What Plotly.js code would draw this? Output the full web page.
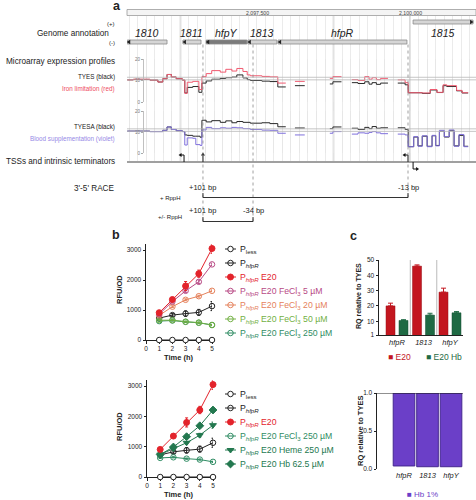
<!DOCTYPE html>
<html><head><meta charset="utf-8">
<script src="https://cdn.plot.ly/plotly-3.0.1.min.js"></script>
<style>html,body{margin:0;padding:0;background:#fff}#chart{width:476px;height:500px}</style>
</head><body><div id="chart"></div>
<script>
// ================= DATA =================
// Panel a : genome browser
const genomeTicks = [2097500, 2100000];
const genomeTickText = ['2,097,500', '2,100,000'];
const majorLines = [2096250, 2098750, 2100000];
const geneNames  = ['1810', '1811', 'hfpY', '1813', 'hfpR', '1815'];
const geneStart  = [2095380, 2096290, 2096670, 2097350, 2097845, 2100050];
const geneEnd    = [2096030, 2096585, 2097335, 2097825, 2099950, 2101030];
const geneStrand = ['-', '-', '-', '-', '-', '+'];

const expX1 = [2095380, 2095480, 2095750, 2095880, 2095960, 2096030, 2096100, 2096180, 2096280, 2096320,
  2096360, 2096450, 2096550, 2096600, 2096670, 2096760, 2096900, 2096990, 2097090, 2097170,
  2097270, 2097340, 2097390, 2097580, 2097710, 2097840, 2097970, 2097980, 2098120, 2098280,
  2098290, 2098690, 2098740, 2098880, 2098890, 2099050, 2099150, 2099260, 2099330, 2099380,
  2099450, 2099520, 2099640, 2099650, 2099800, 2099920, 2099970, 2100200, 2100330, 2100440,
  2100540, 2100600, 2100760, 2100850, 2100950];
const tyes = [10.3, 10.5, 10.2, 9.3, 10.8, 12.8, 11.6, 10.8, 10.2, 4.2,
  6.8, 7.2, 4.5, 8.8, 9.8, 10.6, 11.0, 11.3, 11.6, 12.6,
  11.2, 10.4, 10.0, 9.7, 9.5, 7.0, 7.0, null, 7.6, 7.6,
  null, 8.4, 9.4, 9.4, null, 9.0, 8.6, 9.4, 8.3, 9.0,
  8.2, 8.8, 8.8, null, 8.8, 8.0, 4.3, 4.0, 5.6, 4.4,
  7.6, 7.2, 5.2, 4.2, 4.2];
const ironLimitation = [10.3, 10.6, 10.2, 9.3, 10.8, 12.8, 11.6, 10.8, 10.2, 4.0,
  9.2, 9.6, 5.8, 11.8, 13.2, 14.6, 13.9, 15.2, 14.4, 15.6,
  14.2, 12.6, 12.2, 11.9, 11.7, 8.8, 8.8, null, 9.6, 9.6,
  null, 11.0, 11.8, 11.8, null, 10.4, 10.0, 11.8, 10.6, 11.3,
  10.4, 11.0, 11.0, null, 10.3, 9.0, 4.3, 4.2, 5.8, 4.5,
  8.0, 7.6, 5.4, 4.3, 4.3];

const expX2 = [2095380, 2095750, 2095960, 2096030, 2096100, 2096180, 2096280, 2096320, 2096360, 2096450,
  2096500, 2096570, 2096600, 2096670, 2096760, 2096900, 2096990, 2097090, 2097170, 2097270,
  2097390, 2097580, 2097710, 2097840, 2097970, 2097980, 2098120, 2098280, 2098290, 2098690,
  2098740, 2098880, 2098890, 2099050, 2099150, 2099260, 2099330, 2099380, 2099450, 2099520,
  2099640, 2099650, 2099800, 2099920, 2099970, 2100060, 2100130, 2100200, 2100280, 2100360,
  2100420, 2100480, 2100560, 2100640, 2100720, 2100800, 2100880, 2100950];
const tyesa = [10.4, 10.2, 10.8, 12.4, 11.2, 10.6, 10.2, 8.6, 8.4, 8.0,
  8.0, 7.5, 15.6, 14.8, 15.4, 14.6, 15.3, 14.4, 15.0, 14.6,
  14.2, 14.4, 14.0, 12.5, 12.5, null, 11.9, 11.9, null, 11.6,
  12.4, 12.4, null, 11.8, 11.2, 12.2, 11.6, 12.6, 11.8, 12.0,
  12.0, null, 12.0, 11.2, 3.0, 7.6, 3.4, 8.0, 3.2, 8.2,
  3.6, 10.4, 7.6, 10.6, 3.4, 8.4, 3.2, 3.2];
const bloodSupp = [10.4, 10.2, 10.8, 12.4, 11.2, 10.6, 10.2, 3.8, 7.2, 7.0,
  4.0, 3.6, 11.0, 12.2, 11.6, 12.0, 11.8, 12.2, 12.0, 11.6,
  11.2, 10.9, 10.8, 9.4, 9.4, null, 8.6, 8.6, null, 9.4,
  10.2, 10.2, null, 9.0, 9.6, 9.4, 9.8, 10.2, 9.6, 9.2,
  9.2, null, 9.0, 8.6, 3.0, 7.8, 3.2, 8.2, 3.0, 8.4,
  3.4, 10.8, 7.8, 11.0, 3.2, 8.8, 3.0, 3.0];

const tssMinus = [2096308, 2099967];
const terminators = [2096617];
const tssPlus = [2100050];
const racePos = [2096617, 2099967, 2097435];
const raceLabels = ['+101 bp', '-13 bp', '-34 bp'];

// Panel b : fluorescence time course
const timeH = [1, 2, 3, 4, 5];
const pless = [0, 0, 0, 0, 0];
const phfpR = [730, 830, 880, 920, 1130];      const phfpRErr = [40, 50, 90, 100, 150];
const e20 = [910, 1350, 1800, 2210, 3050];       const e20Err = [60, 60, 150, 120, 160];
const fe5 = [860, 1280, 1640, 1940, 2520];       const fe5Err = [30, 40, 50, 60, 40];
const fe20 = [820, 1110, 1340, 1460, 1640];      const fe20Err = [30, 30, 30, 30, 30];
const fe50 = [660, 660, 610, 580, 500];          const fe50Err = [20, 20, 20, 20, 20];
const fe250 = [630, 650, 605, 575, 500];         const fe250Err = [20, 20, 20, 20, 20];
const heme250 = [740, 930, 1130, 1380, 1710];    const heme250Err = [30, 40, 40, 60, 100];
const hb625 = [740, 990, 1330, 1690, 2210];      const hb625Err = [30, 30, 30, 40, 40];

// Panel c : RQ bars
const genesRQ = ['hfpR', '1813', 'hfpY'];
const rqE20 = [20, 46, 29];       const rqE20Err = [1.8, 0.8, 2.6];
const rqE20Hb = [10.5, 14, 15.5]; const rqE20HbErr = [0.5, 1.2, 0.8];
const rqHb1 = [0.04, 0.03, 0.03];

// ================= LAYOUT HELPERS =================
const W = 476, H = 500;
const px = v => v / W;
const py = v => 1 - v / H;
const FONT = 'Liberation Sans, Arial, sans-serif';
const gRange = [2095376, 2101078];
const bpPx = (gRange[1] - gRange[0]) / (W - 127);
const geneIdx = genesRQ.map((g, i) => i);

const ST = {
  pless: {color: '#222', symbol: 'circle', fill: '#ffffff', size: 5.5, text: '#222'},
  phfpR: {color: '#222', symbol: 'circle-open', fill: '#222', size: 5.5, text: '#222'},
  e20:   {color: '#e3232b', symbol: 'circle', fill: '#e3232b', size: 6, text: '#e3232b'},
  fe5:   {color: '#b84a85', symbol: 'circle-open', fill: '#b84a85', size: 5.5, text: '#b84a85'},
  fe20:  {color: '#e5825c', symbol: 'circle-open', fill: '#e5825c', size: 5.5, text: '#e5825c'},
  fe50:  {color: '#72b043', symbol: 'circle-open', fill: '#72b043', size: 5.5, text: '#72b043'},
  fe250: {color: '#2f8c63', symbol: 'circle-open', fill: '#2f8c63', size: 5.5, text: '#2f8c63'},
  heme:  {color: '#23784f', symbol: 'triangle-down', fill: '#23784f', size: 6, text: '#23784f'},
  hb:    {color: '#23784f', symbol: 'diamond', fill: '#23784f', size: 6, text: '#23784f'}
};
const P = 'P<sub><i>hfpR</i></sub>';

const traces = [];
traces.push({x: [gRange[0]], y: [0], xaxis: 'x', yaxis: 'y', mode: 'markers', marker: {opacity: 0}, hoverinfo: 'skip'});
traces.push({x: expX1, y: tyes, xaxis: 'x', yaxis: 'y2', mode: 'lines', connectgaps: false, line: {shape: 'hv', color: '#2a2a2a', width: 1}, hoverinfo: 'skip'});
traces.push({x: expX1, y: ironLimitation, xaxis: 'x', yaxis: 'y2', mode: 'lines', connectgaps: false, line: {shape: 'hv', color: '#f05a70', width: 1}, hoverinfo: 'skip'});
traces.push({x: expX2, y: tyesa, xaxis: 'x', yaxis: 'y3', mode: 'lines', connectgaps: false, line: {shape: 'hv', color: '#2a2a2a', width: 1}, hoverinfo: 'skip'});
traces.push({x: expX2, y: bloodSupp, xaxis: 'x', yaxis: 'y3', mode: 'lines', connectgaps: false, line: {shape: 'hv', color: '#7f70dc', width: 1}, hoverinfo: 'skip'});

function series(xa, ya, y, err, st) {
  const t = {x: timeH, y: y, xaxis: xa, yaxis: ya, mode: 'lines+markers', cliponaxis: false, hoverinfo: 'skip',
    line: {color: st.color, width: 1},
    marker: {symbol: st.symbol, size: st.size, color: st.fill, line: {color: st.color, width: 1}}};
  if (err) t.error_y = {type: 'data', array: err, visible: true, color: st.color, thickness: 1, width: 1.5};
  return t;
}
traces.push(series('x2', 'y4', pless, null, ST.pless));
traces.push(series('x2', 'y4', phfpR, phfpRErr, ST.phfpR));
traces.push(series('x2', 'y4', fe250, fe250Err, ST.fe250));
traces.push(series('x2', 'y4', fe50, fe50Err, ST.fe50));
traces.push(series('x2', 'y4', fe20, fe20Err, ST.fe20));
traces.push(series('x2', 'y4', fe5, fe5Err, ST.fe5));
traces.push(series('x2', 'y4', e20, e20Err, ST.e20));
traces.push(series('x3', 'y5', pless, null, ST.pless));
traces.push(series('x3', 'y5', phfpR, phfpRErr, ST.phfpR));
traces.push(series('x3', 'y5', fe250, fe250Err, ST.fe250));
traces.push(series('x3', 'y5', heme250, heme250Err, ST.heme));
traces.push(series('x3', 'y5', hb625, hb625Err, ST.hb));
traces.push(series('x3', 'y5', e20, e20Err, ST.e20));

const legUpper = [['pless', 'P<sub>less</sub>'], ['phfpR', P], ['e20', P + ' E20'],
  ['fe5', P + ' E20 FeCl<sub>3</sub> 5 µM'], ['fe20', P + ' E20 FeCl<sub>3</sub> 20 µM'],
  ['fe50', P + ' E20 FeCl<sub>3</sub> 50 µM'], ['fe250', P + ' E20 FeCl<sub>3</sub> 250 µM']];
const legLower = [['pless', 'P<sub>less</sub>'], ['phfpR', P], ['e20', P + ' E20'],
  ['fe250', P + ' E20 FeCl<sub>3</sub> 250 µM'], ['heme', P + ' E20 Heme 250 µM'], ['hb', P + ' E20 Hb 62.5 µM']];
const annotations = [];
function legend(list, xa, ya) {
  list.forEach((it, i) => {
    const st = ST[it[0]];
    traces.push({x: [0, 1], y: [i, i], xaxis: xa, yaxis: ya, mode: 'lines', line: {color: st.color, width: 1}, hoverinfo: 'skip', cliponaxis: false});
    traces.push({x: [0.5], y: [i], xaxis: xa, yaxis: ya, mode: 'markers', cliponaxis: false, hoverinfo: 'skip',
      marker: {symbol: st.symbol, size: st.size, color: st.fill, line: {color: st.color, width: 1}}});
    annotations.push({text: it[1], xref: 'paper', yref: ya, x: px(238), y: i, xanchor: 'left', yanchor: 'middle',
      showarrow: false, font: {family: FONT, size: 8.7, color: st.text}});
  });
}
legend(legUpper, 'x6', 'y8');
legend(legLower, 'x7', 'y9');

// panel c bars
traces.push({type: 'bar', x: geneIdx, y: rqE20, xaxis: 'x4', yaxis: 'y6', width: 0.34, offset: -0.415,
  marker: {color: '#c3161f', line: {color: '#9b1018', width: 0.5}}, hoverinfo: 'skip',
  error_y: {type: 'data', symmetric: false, array: rqE20Err, arrayminus: [0, 0, 0], color: '#c3161f', thickness: 1, width: 2.5}});
traces.push({type: 'bar', x: geneIdx, y: rqE20Hb, xaxis: 'x4', yaxis: 'y6', width: 0.34, offset: 0.075,
  marker: {color: '#1f6a44', line: {color: '#164f33', width: 0.5}}, hoverinfo: 'skip',
  error_y: {type: 'data', symmetric: false, array: rqE20HbErr, arrayminus: [0, 0, 0], color: '#1f6a44', thickness: 1, width: 2.5}});
traces.push({type: 'bar', x: geneIdx, y: rqHb1.map(v => v - 1), base: 1, xaxis: 'x5', yaxis: 'y7', width: 0.92,
  marker: {color: '#6b3fc8', line: {color: '#45288f', width: 1}}, hoverinfo: 'skip'});

// ================= SHAPES =================
const shapes = [];
shapes.push({type: 'rect', xref: 'paper', yref: 'paper', x0: px(127), x1: 1, y0: py(15.5), y1: py(9.5), fillcolor: '#f4f4f4', line: {color: '#9a9a9a', width: 0.8}});
majorLines.forEach(x => shapes.push({type: 'line', xref: 'x', yref: 'paper', x0: x, x1: x, y0: py(162), y1: py(16), line: {color: '#cfcfcf', width: 1.6}, layer: 'below'}));
geneNames.forEach((g, i) => {
  const yTop = geneStrand[i] === '+' ? 20 : 40, yBot = yTop + 4;
  shapes.push({type: 'rect', xref: 'x', yref: 'paper', x0: geneStart[i], x1: geneEnd[i], y0: py(yBot), y1: py(yTop),
    fillcolor: g === 'hfpY' ? '#7b7b7b' : '#d6d6d6', line: {color: '#8a8a8a', width: 0.8}});
  const s = 3 * bpPx, yM = yTop + 2;
  const path = geneStrand[i] === '-'
    ? `M ${geneStart[i] - 0.5 * bpPx},${py(yM)} L ${geneStart[i] + s},${py(yTop - 0.3)} L ${geneStart[i] + s},${py(yBot + 0.3)} Z`
    : `M ${geneEnd[i] + 0.5 * bpPx},${py(yM)} L ${geneEnd[i] - s},${py(yTop - 0.3)} L ${geneEnd[i] - s},${py(yBot + 0.3)} Z`;
  shapes.push({type: 'path', xref: 'x', yref: 'paper', path: path, fillcolor: '#222', line: {width: 0}});
  annotations.push({text: '<i>' + g + '</i>', xref: 'x', yref: 'paper', x: (geneStart[i] + geneEnd[i]) / 2, y: py(33),
    showarrow: false, font: {family: FONT, size: 10.5, color: '#222'}, xanchor: 'center', yanchor: 'middle'});
});
['y2', 'y3'].forEach(ya => [10.3, 11.5].forEach(v => shapes.push({type: 'line', xref: 'paper', yref: ya, x0: px(127), x1: 1, y0: v, y1: v, line: {color: '#b8b8b8', width: 0.8}})));
shapes.push({type: 'line', xref: 'paper', yref: 'paper', x0: px(127), x1: 1, y0: py(162), y1: py(162), line: {color: '#a0a0a0', width: 2}});
function tri(xb, y, dir) {
  const s = 3;
  if (dir === 'left') return `M ${xb},${py(y)} L ${xb + s * bpPx},${py(y - 2)} L ${xb + s * bpPx},${py(y + 2)} Z`;
  if (dir === 'right') return `M ${xb},${py(y)} L ${xb - s * bpPx},${py(y - 2)} L ${xb - s * bpPx},${py(y + 2)} Z`;
  return `M ${xb},${py(y)} L ${xb - 2 * bpPx},${py(y + s)} L ${xb + 2 * bpPx},${py(y + s)} Z`;
}
tssMinus.forEach(x => {
  shapes.push({type: 'path', xref: 'x', yref: 'paper', path: `M ${x},${py(162)} L ${x},${py(155)} L ${x - 3 * bpPx},${py(155)}`, line: {color: '#111', width: 1}});
  shapes.push({type: 'path', xref: 'x', yref: 'paper', path: tri(x - 5.5 * bpPx, 155, 'left'), fillcolor: '#111', line: {width: 0}});
});
terminators.forEach(x => {
  shapes.push({type: 'line', xref: 'x', yref: 'paper', x0: x, x1: x, y0: py(162), y1: py(155.5), line: {color: '#111', width: 1}});
  shapes.push({type: 'path', xref: 'x', yref: 'paper', path: tri(x, 152.5, 'up'), fillcolor: '#111', line: {width: 0}});
});
tssPlus.forEach(x => {
  shapes.push({type: 'path', xref: 'x', yref: 'paper', path: `M ${x},${py(162)} L ${x},${py(169)} L ${x + 3 * bpPx},${py(169)}`, line: {color: '#111', width: 1}});
  shapes.push({type: 'path', xref: 'x', yref: 'paper', path: tri(x + 6 * bpPx, 169, 'right'), fillcolor: '#111', line: {width: 0}});
});
[[racePos[0], 221.5], [racePos[2], 221.5], [racePos[1], 197.5]].forEach(d => shapes.push({type: 'line', xref: 'x', yref: 'paper', x0: d[0], x1: d[0], y0: py(44.5), y1: py(d[1]), line: {color: '#888', width: 0.8, dash: 'dot'}}));
shapes.push({type: 'path', xref: 'x', yref: 'paper', path: `M ${racePos[0]},${py(193)} L ${racePos[0]},${py(197.5)} L ${racePos[1]},${py(197.5)} L ${racePos[1]},${py(193)}`, line: {color: '#333', width: 1}});
shapes.push({type: 'path', xref: 'x', yref: 'paper', path: `M ${racePos[0]},${py(217)} L ${racePos[0]},${py(221.5)} L ${racePos[2]},${py(221.5)} L ${racePos[2]},${py(217)}`, line: {color: '#333', width: 1}});
[0.5, 1.5].forEach(x => shapes.push({type: 'line', xref: 'x4', yref: 'y6', x0: x, x1: x, y0: 1, y1: 50, line: {color: '#a8a8a8', width: 0.8}, layer: 'below'}));
shapes.push({type: 'line', xref: 'x5 domain', yref: 'y7', x0: 0, x1: 1, y0: 1, y1: 1, line: {color: '#222', width: 1.2}});

// ================= TEXT =================
function T(text, x, y, size, o) {
  o = o || {};
  return {text: text, xref: o.xref || 'paper', yref: 'paper', x: o.xref ? x : px(x), y: py(y), showarrow: false,
    xanchor: o.xa || 'center', yanchor: 'middle', textangle: o.rot || 0,
    font: {family: FONT, size: size, color: o.color || '#222'}};
}
annotations.push(T('<b>a</b>', 117, 6, 12.5));
annotations.push(T('<b>b</b>', 116, 235, 12.5));
annotations.push(T('<b>c</b>', 353, 236, 12.5));
genomeTicks.forEach((g, i) => annotations.push(T(genomeTickText[i], g, 12.5, 5.2, {xref: 'x', color: '#444'})));
annotations.push(T('(+)', 117, 24, 6, {xa: 'right'}));
annotations.push(T('(-)', 117, 43, 6, {xa: 'right'}));
annotations.push(T('Genome annotation', 111, 33, 8.2, {xa: 'right'}));
annotations.push(T('Microarray expression profiles', 117, 61, 8.2, {xa: 'right'}));
annotations.push(T('TYES (black)', 117, 77, 6.3, {xa: 'right'}));
annotations.push(T('Iron limitation (red)', 117, 89, 6.3, {xa: 'right', color: '#ee4c62'}));
annotations.push(T('TYESA (black)', 117, 127, 6.3, {xa: 'right'}));
annotations.push(T('Blood supplementation (violet)', 117, 139, 6.3, {xa: 'right', color: '#9688e6'}));
annotations.push(T('TSSs and intrinsic terminators', 117, 161, 8.2, {xa: 'right'}));
annotations.push(T("3'-5' RACE", 117, 188, 8.2, {xa: 'right'}));
annotations.push(T('+ RppH', 170, 198, 6));
annotations.push(T('+/- RppH', 170, 217, 6));
annotations.push(T(raceLabels[0], racePos[0], 187, 7.5, {xref: 'x'}));
annotations.push(T(raceLabels[1], racePos[1], 187, 7.5, {xref: 'x'}));
annotations.push(T(raceLabels[0], racePos[0], 211, 7.5, {xref: 'x'}));
annotations.push(T(raceLabels[2], racePos[2], 211, 7.5, {xref: 'x'}));
annotations.push(T('<b>RFU/OD</b>', 119, 290, 7.5, {rot: -90}));
annotations.push(T('<b>RFU/OD</b>', 119, 427, 7.5, {rot: -90}));
annotations.push(T('<b>Time (h)</b>', 179, 357, 7.5));
annotations.push(T('<b>Time (h)</b>', 179, 494, 7.5));
annotations.push(T('<b>RQ relative to TYES</b>', 359, 296, 7, {rot: -90}));
annotations.push(T('<b>RQ relative to TYES</b>', 360, 431, 7.5, {rot: -90}));
annotations.push(T('■ E20', 386, 357, 8.5, {xa: 'left', color: '#c3161f'}));
annotations.push(T('■ E20 Hb', 424, 357, 8.5, {xa: 'left', color: '#1f6a44'}));
annotations.push(T('■ Hb 1%', 405, 494, 8, {xa: 'left', color: '#6b3fc8'}));

// ================= AXES =================
const bAxisX = {range: [0, 5], tickvals: [0, 1, 2, 3, 4, 5], ticks: 'outside', ticklen: 2.5, tickwidth: 1, tickcolor: '#222',
  showline: true, linecolor: '#222', linewidth: 1, tickfont: {family: FONT, size: 6.5, color: '#222'}, showgrid: false, zeroline: false, layer: 'below traces', fixedrange: true};
const bAxisY = {range: [0, 3200], tickvals: [0, 1000, 2000, 3000], ticks: 'outside', ticklen: 2.5, tickwidth: 1, tickcolor: '#222',
  showline: true, linecolor: '#222', linewidth: 1, tickfont: {family: FONT, size: 6.5, color: '#222'}, showgrid: false, zeroline: false, fixedrange: true};
const trackY = {range: [0, 20], tickvals: [0, 10, 20], anchor: 'free', position: px(143), ticks: 'outside', ticklen: 2, tickcolor: '#aaa',
  showline: true, linecolor: '#b0b0b0', linewidth: 0.8, tickfont: {family: FONT, size: 4.5, color: '#777'}, showgrid: false, zeroline: false, fixedrange: true};
const hidden = {visible: false, fixedrange: true};
const cX = {type: 'linear', tickvals: geneIdx, ticktext: genesRQ.map(g => '<i>' + g + '</i>'), ticks: '',
  tickfont: {family: FONT, size: 7.5, color: '#222'}, showgrid: false, zeroline: false, fixedrange: true};

const layout = {
  width: W, height: H, margin: {l: 0, r: 0, t: 0, b: 0}, paper_bgcolor: '#fff', plot_bgcolor: 'rgba(0,0,0,0)',
  showlegend: false, barmode: 'overlay', font: {family: FONT, color: '#222'},
  xaxis: {domain: [px(127), 1], range: gRange, anchor: 'y', showgrid: true, gridcolor: '#e6e6e6', gridwidth: 0.8,
    tick0: 2098750, dtick: 139, showticklabels: false, ticks: '', zeroline: false, showline: false, fixedrange: true},
  yaxis: Object.assign({domain: [py(162), py(16)], range: [0, 1]}, hidden),
  yaxis2: Object.assign({domain: [py(102), py(59)]}, trackY),
  yaxis3: Object.assign({domain: [py(153), py(111)]}, trackY),
  xaxis2: Object.assign({domain: [px(146), px(212)], anchor: 'y4'}, bAxisX),
  yaxis4: Object.assign({domain: [py(340), py(244)], anchor: 'x2'}, bAxisY),
  xaxis3: Object.assign({domain: [px(147), px(213)], anchor: 'y5'}, bAxisX),
  yaxis5: Object.assign({domain: [py(477), py(380)], anchor: 'x3'}, bAxisY),
  xaxis4: Object.assign({domain: [px(379), px(463)], anchor: 'y6', range: [-0.68, 2.49], showline: true, linecolor: '#222', linewidth: 1}, cX),
  yaxis6: {domain: [py(335), py(260)], anchor: 'x4', range: [1, 50], tickvals: [1, 10, 20, 30, 40, 50], ticks: 'outside', ticklen: 2.5,
    tickcolor: '#222', showline: true, linecolor: '#222', linewidth: 1, tickfont: {family: FONT, size: 6.5, color: '#222'}, showgrid: false, zeroline: false, fixedrange: true},
  xaxis5: Object.assign({domain: [px(377), px(463)], anchor: 'y7', range: [-1.15, 2.51], showline: false}, cX),
  yaxis7: {domain: [py(469), py(393)], anchor: 'x5', range: [0, 1], tickvals: [0, 0.5, 1], ticktext: ['0.0', '0.5', '1.0'], ticks: 'outside', ticklen: 2.5,
    tickcolor: '#222', showline: true, linecolor: '#222', linewidth: 1, tickfont: {family: FONT, size: 6.5, color: '#222'}, showgrid: false, zeroline: false, fixedrange: true},
  xaxis6: Object.assign({domain: [px(225), px(236)], range: [0, 1], anchor: 'y8'}, hidden),
  yaxis8: Object.assign({domain: [py(340), py(242)], range: [6.5, -0.5], anchor: 'x6'}, hidden),
  xaxis7: Object.assign({domain: [px(225), px(236)], range: [0, 1], anchor: 'y9'}, hidden),
  yaxis9: Object.assign({domain: [py(471), py(387)], range: [5.5, -0.5], anchor: 'x7'}, hidden),
  shapes: shapes,
  annotations: annotations
};

Plotly.newPlot('chart', traces, layout, {staticPlot: true, displayModeBar: false});
</script>
</body></html>
